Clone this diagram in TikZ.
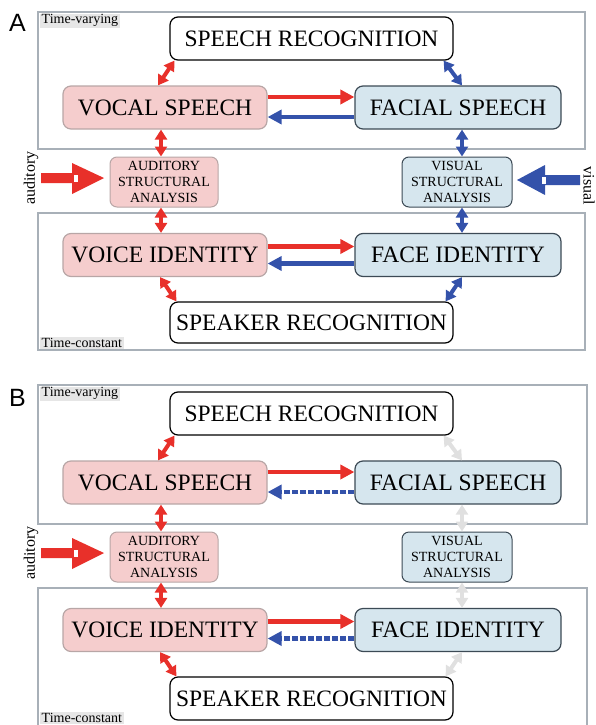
\documentclass[tikz,border=0pt]{standalone}
\usepackage{fontspec}
\setmainfont{Liberation Serif}
\newfontfamily\labfont{Liberation Sans}
\usetikzlibrary{arrows.meta}
\definecolor{pinkfill}{HTML}{F5CDCD}
\definecolor{pinkline}{HTML}{B8A6A6}
\definecolor{bluefill}{HTML}{D6E6EE}
\definecolor{blueline}{HTML}{3C4A55}
\definecolor{arrred}{HTML}{E8302A}
\definecolor{arrblue}{HTML}{3452AA}
\definecolor{arrgrey}{HTML}{E0E0E0}
\definecolor{frameline}{HTML}{A8B0B8}
\definecolor{tagbg}{HTML}{E6E6E6}
\tikzset{
  big/.style={font=\fontsize{23.5}{26}\selectfont, inner sep=0pt, rounded corners=8pt, line width=1.2pt},
  recog/.style={big, draw=black, fill=white},
  pinkbox/.style={big, draw=pinkline, fill=pinkfill, minimum width=204pt, minimum height=43pt},
  bluebox/.style={big, draw=blueline, fill=bluefill, minimum width=206pt, minimum height=43pt},
  smallpink/.style={font=\fontsize{14}{16}\selectfont, align=center, inner sep=0pt, rounded corners=7pt, line width=1pt, draw=pinkline, fill=pinkfill, minimum width=108pt, minimum height=50pt},
  smallblue/.style={font=\fontsize{14}{16}\selectfont, align=center, inner sep=0pt, rounded corners=7pt, line width=1pt, draw=blueline, fill=bluefill, minimum width=110pt, minimum height=50pt},
  frame/.style={draw=frameline, line width=1.5pt},
  tag/.style={font=\fontsize{14}{16}\selectfont, fill=tagbg, inner xsep=2pt, inner ysep=1pt},
  panellab/.style={font=\labfont\fontsize{25}{28}\selectfont, inner sep=0pt},
  oneway/.style={line width=4.5pt, -{Triangle[length=14pt,width=14pt]}},
  twoway/.style={line width=4pt, {Triangle[length=10pt,width=12pt]}-{Triangle[length=10pt,width=12pt]}},
  sidetext/.style={font=\fontsize{16}{18}\selectfont, inner sep=0pt},
}
\begin{document}
\begin{tikzpicture}[x=1pt,y=-1pt]
\useasboundingbox (0,0) rectangle (595,725);

%%%%%%%%%%%%%%%% PANEL A %%%%%%%%%%%%%%%%
\node[panellab, anchor=north west] (a-lab) at (9,14) {A};
\draw[frame] (38,12) rectangle (585,149);
\draw[frame] (38,213) rectangle (585,350);
\node[tag, anchor=north west] (a-tv) at (39.5,13.5) {Time-varying};
\node[tag, anchor=south west] (a-tc) at (39.5,349) {Time-constant};

\node[recog, minimum width=283pt, minimum height=43pt] (a-sr) at (311.5,38.5) {SPEECH RECOGNITION};
\node[pinkbox] (a-vs) at (165,107.5) {VOCAL SPEECH};
\node[bluebox] (a-fs) at (458,107.5) {FACIAL SPEECH};
\node[smallpink] (a-aud) at (164,182) {AUDITORY\\STRUCTURAL\\ANALYSIS};
\node[smallblue] (a-vis) at (457,182) {VISUAL\\STRUCTURAL\\ANALYSIS};
\node[pinkbox] (a-vi) at (165,255) {VOICE IDENTITY};
\node[bluebox] (a-fi) at (458,255) {FACE IDENTITY};
\node[recog, minimum width=283pt, minimum height=41pt] (a-spk) at (311.5,322.5) {SPEAKER RECOGNITION};

\draw[oneway, arrred] ([yshift=10.5pt]a-vs.east) -- ([yshift=10.5pt]a-fs.west);
\draw[oneway, arrblue] ([yshift=-9.5pt]a-fs.west) -- ([yshift=-9.5pt]a-vs.east);
\draw[oneway, arrred] ([yshift=8.5pt]a-vi.east) -- ([yshift=8.5pt]a-fi.west);
\draw[oneway, arrblue] ([yshift=-8.5pt]a-fi.west) -- ([yshift=-8.5pt]a-vi.east);

\draw[twoway, arrred] ([xshift=5pt]a-sr.south west) -- ([xshift=-7pt]a-vs.north);
\draw[twoway, arrblue] ([xshift=-10pt]a-sr.south east) -- ([xshift=4pt]a-fs.north);
\draw[twoway, arrred] ([xshift=-4pt]a-vs.south) -- ([xshift=-3pt]a-aud.north);
\draw[twoway, arrred] ([xshift=-3pt]a-aud.south) -- ([xshift=-4pt]a-vi.north);
\draw[twoway, arrblue] ([xshift=4pt]a-fs.south) -- ([xshift=5pt]a-vis.north);
\draw[twoway, arrblue] ([xshift=5pt]a-vis.south) -- ([xshift=4pt]a-fi.north);
\draw[twoway, arrred] ([xshift=-5pt]a-vi.south) -- ([xshift=7pt]a-spk.north west);
\draw[twoway, arrblue] ([xshift=4pt]a-fi.south) -- ([xshift=-8pt]a-spk.north east);

\fill[arrred] (41,173) -- (72,173) -- (72,163) -- (104,178) -- (72,194) -- (72,183) -- (41,183) -- cycle;
\fill[white] (74,175) rectangle (78,182);
\node[sidetext, rotate=90] (a-audtxt) at (31,178) {auditory};
\fill[arrblue] (580,175) -- (545,175) -- (545,165) -- (517,180) -- (545,195) -- (545,185) -- (580,185) -- cycle;
\fill[white] (542,177) rectangle (546,184);
\node[sidetext, rotate=-90] (a-vistxt) at (589,186) {visual};

%%%%%%%%%%%%%%%% PANEL B %%%%%%%%%%%%%%%%
\begin{scope}[yshift=-375pt]
\node[panellab, anchor=north west] (b-lab) at (9,14) {B};
\draw[frame] (38,10) rectangle (587,149);
\draw[frame] (38,213) rectangle (587,352);
\node[tag, anchor=north west] (b-tv) at (39.5,11.5) {Time-varying};
\node[tag, anchor=south west] (b-tc) at (39.5,349) {Time-constant};

\node[recog, minimum width=283pt, minimum height=43pt] (b-sr) at (311.5,38.5) {SPEECH RECOGNITION};
\node[pinkbox] (b-vs) at (165,107.5) {VOCAL SPEECH};
\node[bluebox] (b-fs) at (458,107.5) {FACIAL SPEECH};
\node[smallpink] (b-aud) at (164,182) {AUDITORY\\STRUCTURAL\\ANALYSIS};
\node[smallblue] (b-vis) at (457,182) {VISUAL\\STRUCTURAL\\ANALYSIS};
\node[pinkbox] (b-vi) at (165,255) {VOICE IDENTITY};
\node[bluebox] (b-fi) at (458,255) {FACE IDENTITY};
\node[recog, minimum width=283pt, minimum height=43pt] (b-spk) at (311.5,323.5) {SPEAKER RECOGNITION};

\draw[oneway, arrred] ([yshift=10.5pt]b-vs.east) -- ([yshift=10.5pt]b-fs.west);
\draw[oneway, arrblue, dash pattern=on 6pt off 2pt] ([yshift=-9.5pt]b-fs.west) -- ([yshift=-9.5pt]b-vs.east);
\draw[oneway, arrred] ([yshift=8.5pt]b-vi.east) -- ([yshift=8.5pt]b-fi.west);
\draw[oneway, arrblue, dash pattern=on 6pt off 2pt] ([yshift=-8.5pt]b-fi.west) -- ([yshift=-8.5pt]b-vi.east);

\draw[twoway, arrred] ([xshift=5pt]b-sr.south west) -- ([xshift=-7pt]b-vs.north);
\draw[twoway, arrgrey] ([xshift=-10pt]b-sr.south east) -- ([xshift=4pt]b-fs.north);
\draw[twoway, arrred] ([xshift=-4pt]b-vs.south) -- ([xshift=-3pt]b-aud.north);
\draw[twoway, arrred] ([xshift=-3pt]b-aud.south) -- ([xshift=-4pt]b-vi.north);
\draw[twoway, arrgrey] ([xshift=4pt]b-fs.south) -- ([xshift=5pt]b-vis.north);
\draw[twoway, arrgrey] ([xshift=5pt]b-vis.south) -- ([xshift=4pt]b-fi.north);
\draw[twoway, arrred] ([xshift=-5pt]b-vi.south) -- ([xshift=7pt]b-spk.north west);
\draw[twoway, arrgrey] ([xshift=4pt]b-fi.south) -- ([xshift=-8pt]b-spk.north east);

\fill[arrred] (41,173) -- (72,173) -- (72,163) -- (104,178) -- (72,194) -- (72,183) -- (41,183) -- cycle;
\fill[white] (74,175) rectangle (78,182);
\node[sidetext, rotate=90] (b-audtxt) at (31,178) {auditory};
\end{scope}
\end{tikzpicture}
\end{document}
